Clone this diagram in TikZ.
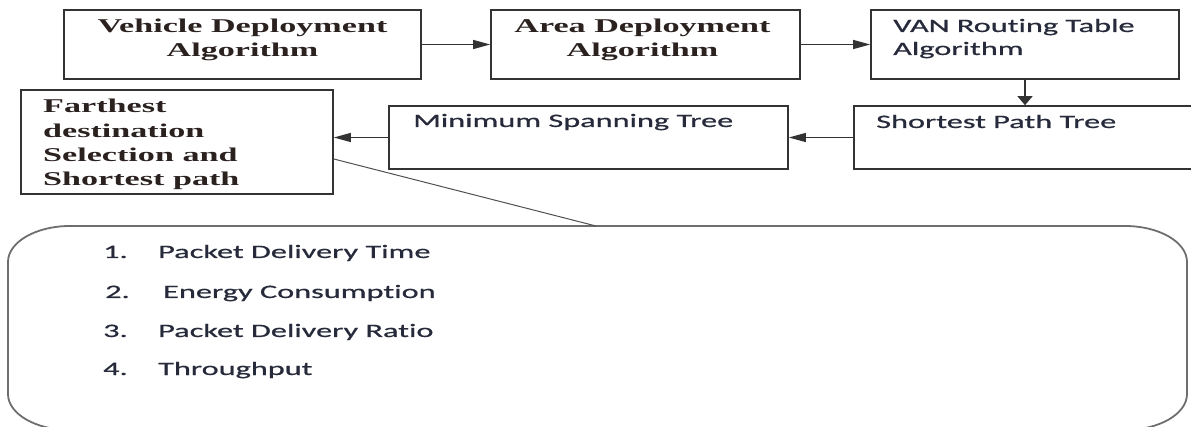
\documentclass[tikz,border=0pt]{standalone}
\usepackage{fontspec}
\setmainfont{Liberation Serif}
\newfontfamily\calib[Ligatures=NoCommon, FakeBold=0.5]{Carlito}
\usetikzlibrary{arrows.meta}

\definecolor{boxgray}{HTML}{333333}
\definecolor{inkdark}{HTML}{2B2220}
\definecolor{inkblue}{HTML}{262A3A}
\definecolor{calloutgray}{HTML}{6E6E6E}
\definecolor{linkgray}{HTML}{505050}

% wide lettering used throughout the chart
\newcommand\serifline[1]{\scalebox{1.75}[1]{#1}}
\newcommand\sansline[1]{\scalebox{1.7}[1]{#1}}

\begin{document}
\begin{tikzpicture}[x=1pt,y=-1pt,
  box/.style={draw=boxgray, line width=1.6pt, inner sep=0pt},
  serif/.style={inner sep=0pt, text=inkdark, font=\fontsize{19.5}{24}\selectfont\bfseries},
  serifwide/.style={inner sep=0pt, text=inkdark, font=\fontsize{19.5}{24.3}\selectfont\bfseries},
  sans/.style={inner sep=0pt, text=inkblue, font=\calib\fontsize{19}{23}\selectfont},
  flow/.style={line width=1.2pt, draw=boxgray},
  harrow/.style={flow, -{Triangle[length=17pt,width=9pt]}},
  varrow/.style={flow, -{Triangle[length=9pt,width=15pt]}},
  link/.style={draw=linkgray, line width=1pt},
  callout/.style={draw=calloutgray, line width=1.8pt},
]
\useasboundingbox (0,0) rectangle (1191,427);
\clip (0,0) rectangle (1191,427);

% process boxes
\node[box, minimum width=357pt, minimum height=69pt] (veh) at (242.5,44.5) {};
\node[box, minimum width=309pt, minimum height=69pt] (area) at (645.5,44.5) {};
\node[box, minimum width=308pt, minimum height=69pt] (van) at (1025,44.5) {};
\node[box, minimum width=312pt, minimum height=104pt] (far) at (177,142) {};
\node[box, minimum width=399pt, minimum height=63pt] (mst) at (588.5,137.5) {};
\node[box, minimum width=342pt, minimum height=63pt] (spt) at (1025,137.5) {};

% box captions
\node[serif, anchor=base] (vehT) at (242.5,33)
  {\begin{tabular}[t]{@{}c@{}}\serifline{Vehicle Deployment}\\\serifline{Algorithm}\end{tabular}};
\node[serif, anchor=base] (areaT) at (642.5,33)
  {\begin{tabular}[t]{@{}c@{}}\serifline{Area Deployment}\\\serifline{Algorithm}\end{tabular}};
\node[sans, anchor=base west] (vanT) at (893,32)
  {\begin{tabular}[t]{@{}l@{}}\sansline{VAN Routing Table}\\\sansline{Algorithm}\end{tabular}};
\node[serifwide, anchor=base west] (farT) at (43,113)
  {\begin{tabular}[t]{@{}l@{}}\serifline{Farthest}\\\serifline{destination}\\\serifline{Selection and}\\\serifline{Shortest path}\end{tabular}};
\node[sans, anchor=base west] (mstT) at (413,127) {\sansline{Minimum Spanning Tree}};
\node[sans, anchor=base west] (sptT) at (876,128) {\sansline{Shortest Path Tree}};

% flow between the stages
\draw[harrow] (veh.east) -- (area.west);
\draw[harrow] (area.east) -- (van.west);
\draw[varrow] (van.south) -- (spt.north);
\draw[harrow] (spt.west) -- (mst.east);
\draw[harrow] (mst.west) -- (mst.west -| far.east);

% performance metrics callout
\draw[callout] (8,262) .. controls (8,242.1) and (35.8,226) .. (70,226)
  -- (1125,226) .. controls (1159.2,226) and (1187,242.1) .. (1187,262)
  -- (1187,394) .. controls (1187,413.9) and (1159.2,430) .. (1125,430)
  -- (70,430) .. controls (35.8,430) and (8,413.9) .. (8,394) -- cycle;
\coordinate (farOut) at ([yshift=-17pt]far.east);
\coordinate (calloutTip) at (596,226);
\draw[link] (farOut) -- (calloutTip);

\node[sans, anchor=base west] (n1) at (103,258) {\sansline{1.}};
\node[sans, anchor=base west] (m1) at (158,258) {\sansline{Packet Delivery Time}};
\node[sans, anchor=base west] (n2) at (105,298) {\sansline{2.}};
\node[sans, anchor=base west] (m2) at (163,298) {\sansline{Energy Consumption}};
\node[sans, anchor=base west] (n3) at (103,337) {\sansline{3.}};
\node[sans, anchor=base west] (m3) at (158,337) {\sansline{Packet Delivery Ratio}};
\node[sans, anchor=base west] (n4) at (103,375) {\sansline{4.}};
\node[sans, anchor=base west] (m4) at (158,375) {\sansline{Throughput}};
\end{tikzpicture}
\end{document}
